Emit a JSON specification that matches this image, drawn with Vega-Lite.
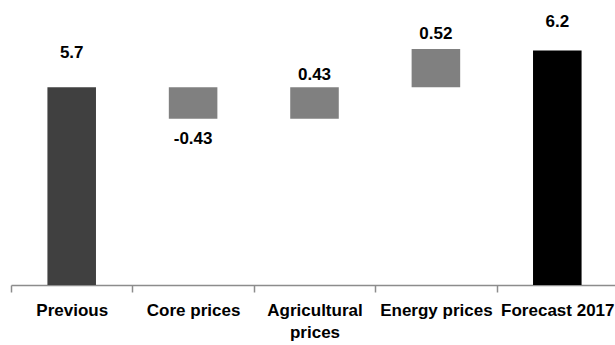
{
  "$schema": "https://vega.github.io/schema/vega-lite/v6.json",
  "autosize": "none",
  "width": 604,
  "height": 285,
  "padding": {"left": 11, "top": 0, "right": 0, "bottom": 60},
  "background": "white",
  "config": {"view": {"stroke": null}, "font": "Liberation Sans"},
  "data": {"values": [
    {"category": "Previous", "value": 5.7, "start": 0, "end": 5.7, "kind": "total"},
    {"category": "Core prices", "value": -0.43, "start": 5.7, "end": 5.27, "kind": "change"},
    {"category": "Agricultural prices", "value": 0.43, "start": 5.27, "end": 5.7, "kind": "change"},
    {"category": "Energy prices", "value": 0.52, "start": 5.7, "end": 6.22, "kind": "change"},
    {"category": "Forecast 2017", "value": 6.2, "start": 0, "end": 6.2, "kind": "forecast"}
  ]},
  "encoding": {
    "x": {
      "field": "category", "type": "nominal", "sort": null, "title": null,
      "scale": {"range": [0, 607], "paddingInner": 0, "paddingOuter": 0},
      "axis": {
        "tickBand": "extent", "labelAngle": 0, "labelFontSize": 17, "labelFontWeight": "bold",
        "labelColor": "#000000", "labelPadding": 10, "tickSize": 7, "tickColor": "#8c8c8c",
        "domainColor": "#8c8c8c", "domainWidth": 1.5, "tickWidth": 1.5, "labelLimit": 300,
        "labelLineHeight": 22, "labelOverlap": false,
        "labelExpr": "datum.label == 'Agricultural prices' ? ['Agricultural', 'prices'] : datum.label"
      }
    },
    "y": {"field": "end", "type": "quantitative", "scale": {"domain": [3, 6.89], "nice": false, "zero": false}, "axis": null}
  },
  "layer": [
    {
      "mark": {"type": "bar", "width": {"band": 0.4}, "clip": true},
      "encoding": {
        "y": {"field": "start", "type": "quantitative", "scale": {"domain": [3, 6.89], "nice": false, "zero": false}, "axis": null},
        "y2": {"field": "end"},
        "color": {"field": "kind", "type": "nominal", "scale": {"domain": ["total", "change", "forecast"], "range": ["#404040", "#808080", "#000000"]}, "legend": null}
      }
    },
    {
      "transform": [{"filter": "datum.category == 'Previous'"}],
      "mark": {"type": "text", "fontSize": 17, "fontWeight": "bold", "baseline": "alphabetic", "dy": -29, "color": "#000000"},
      "encoding": {"text": {"field": "value", "type": "nominal"}}
    },
    {
      "transform": [{"filter": "datum.category == 'Core prices'"}],
      "mark": {"type": "text", "fontSize": 17, "fontWeight": "bold", "baseline": "alphabetic", "dy": 25, "color": "#000000"},
      "encoding": {"text": {"field": "value", "type": "nominal"}}
    },
    {
      "transform": [{"filter": "datum.category == 'Agricultural prices'"}],
      "mark": {"type": "text", "fontSize": 17, "fontWeight": "bold", "baseline": "alphabetic", "dy": -7, "color": "#000000"},
      "encoding": {"text": {"field": "value", "type": "nominal"}}
    },
    {
      "transform": [{"filter": "datum.category == 'Energy prices'"}],
      "mark": {"type": "text", "fontSize": 17, "fontWeight": "bold", "baseline": "alphabetic", "dy": -10, "color": "#000000"},
      "encoding": {"text": {"field": "value", "type": "nominal"}}
    },
    {
      "transform": [{"filter": "datum.category == 'Forecast 2017'"}],
      "mark": {"type": "text", "fontSize": 17, "fontWeight": "bold", "baseline": "alphabetic", "dy": -24, "color": "#000000"},
      "encoding": {"text": {"field": "value", "type": "nominal"}}
    }
  ]
}
